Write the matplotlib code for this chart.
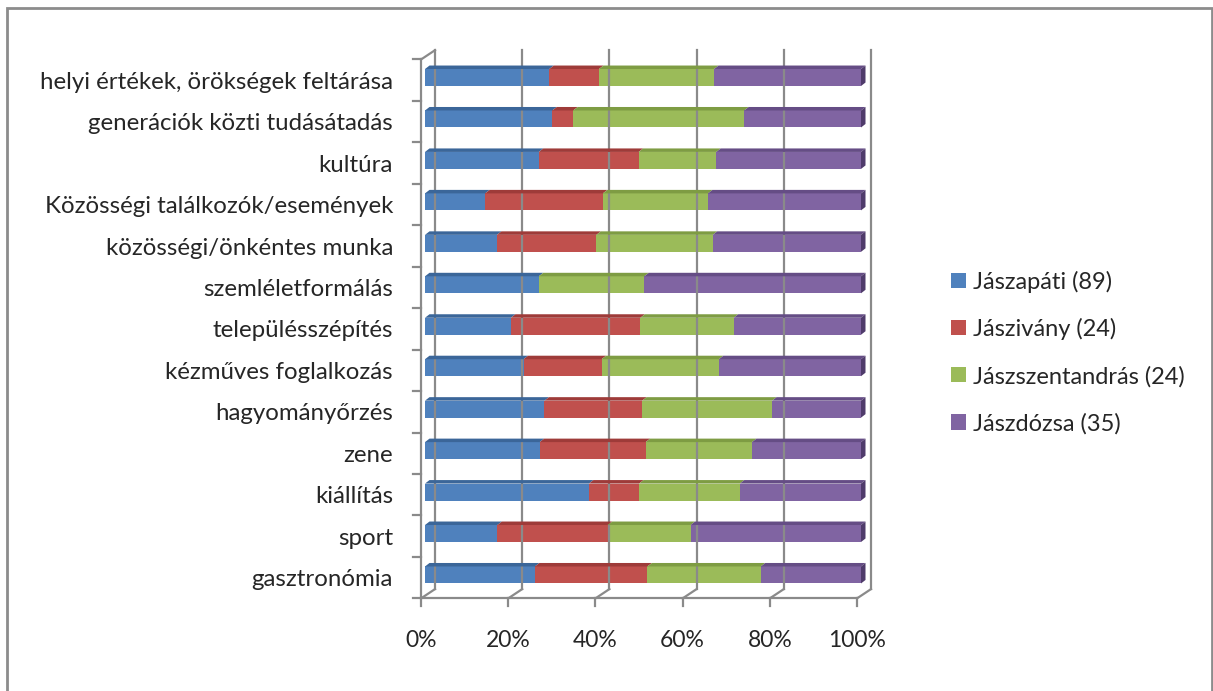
import numpy as np
import matplotlib
matplotlib.use('Agg')
import matplotlib.pyplot as plt
from matplotlib.patches import Polygon, Patch, Rectangle
from matplotlib.lines import Line2D
from matplotlib.transforms import offset_copy, IdentityTransform

# categories, bottom to top
categories = ['gasztronómia', 'sport', 'kiállítás', 'zene', 'hagyományőrzés',
              'kézműves foglalkozás', 'településszépítés', 'szemléletformálás',
              'közösségi/önkéntes munka', 'Közösségi találkozók/események',
              'kultúra', 'generációk közti tudásátadás',
              'helyi értékek, örökségek feltárása']

series = ['Jászapáti (89)', 'Jászivány (24)', 'Jászszentandrás (24)', 'Jászdózsa (35)']

# shares in percent (same order as categories)
japati = [25.2, 16.6, 37.6, 26.3, 27.4, 22.6, 19.7, 26.1, 16.5, 13.8, 26.1, 29.2, 28.5]
jasziv = [25.8, 25.3, 11.5, 24.3, 22.4, 17.9, 29.7, 0.0, 22.8, 27.0, 22.9, 4.8, 11.4]
jszent = [26.0, 19.0, 23.1, 24.4, 29.8, 26.9, 21.4, 24.2, 26.7, 24.1, 17.8, 39.2, 26.4]
jdozsa = [23.0, 39.1, 27.8, 25.0, 20.4, 32.6, 29.2, 49.7, 34.0, 35.1, 33.2, 26.8, 33.7]

colors = ['#4F81BD', '#C0504D', '#9BBB59', '#8064A2']
tops = ['#3B6699', '#9E3B39', '#7E9C43', '#654D85']
side = '#4F3B6B'
grid_c = '#8A8A8A'
txt_c = '#262626'

W, H = 1213, 691
fig = plt.figure(figsize=(W / 100, H / 100), dpi=100)
plt.rcParams['font.family'] = ['Lato', 'DejaVu Sans']

ax = fig.add_axes([425 / W, 95.3 / H, 436 / W, 538.9 / H])
ax.set_xlim(0, 100)
ax.set_ylim(-0.5, len(categories) - 0.5)
ax.axis('off')

# depth offsets in pixels (bar plane -> front plane / back wall / bar back)
front = offset_copy(ax.transData, fig=fig, x=-4, y=-2.7, units='dots')
back = offset_copy(ax.transData, fig=fig, x=10, y=6.6, units='dots')
bdx, bdy = 4.5, 3.5
ident = IdentityTransform()

def pline(p1, p2, **kw):
    fig.add_artist(Line2D([p1[0], p2[0]], [p1[1], p2[1]], transform=ident,
                          color=grid_c, lw=1.6, **kw))

ymin, ymax = -0.5, len(categories) - 0.5
xt = [0, 20, 40, 60, 80, 100]

# back wall gridlines, floor diagonals, x ticks and labels
xlab_tr = offset_copy(front, fig=fig, x=0, y=-32, units='dots')
for v in xt:
    pline(back.transform((v, ymin)), back.transform((v, ymax)))
    pline(front.transform((v, ymin)), back.transform((v, ymin)))
    f = front.transform((v, ymin))
    pline(f, (f[0], f[1] - 8))
    ax.text(v, ymin, f'{v}%', transform=xlab_tr, ha='center', va='top',
            fontsize=16.5, color=txt_c)

# front floor edge and left front edge
pline(front.transform((0, ymin)), front.transform((100, ymin)))
pline(front.transform((0, ymin)), front.transform((0, ymax)))
pline(front.transform((0, ymax)), back.transform((0, ymax)))
for b in np.arange(ymin, ymax + 0.01, 1.0):
    f = front.transform((0, b))
    pline(f, (f[0] - 8, f[1]))

# bars
y = np.arange(len(categories))
h = 0.41
vals = [japati, jasziv, jszent, jdozsa]
left = np.zeros(len(categories))
for vs, c, tc, name in zip(vals, colors, tops, series):
    vs = np.array(vs)
    ax.barh(y, vs, left=left, height=h, color=c, label=name, zorder=3)
    for yi, l, v in zip(y, left, vs):
        if v <= 0:
            continue
        p1 = ax.transData.transform((l, yi + h / 2))
        p2 = ax.transData.transform((l + v, yi + h / 2))
        poly = [p1, p2, (p2[0] + bdx, p2[1] + bdy), (p1[0] + bdx, p1[1] + bdy)]
        fig.add_artist(Polygon(poly, closed=True, transform=ident,
                               facecolor=tc, edgecolor='none', zorder=4))
    left = left + vs

# right side faces
for yi, r in zip(y, left):
    q1 = ax.transData.transform((r, yi - h / 2))
    q2 = ax.transData.transform((r, yi + h / 2))
    poly = [q1, q2, (q2[0] + bdx, q2[1] + bdy), (q1[0] + bdx, q1[1] + bdy)]
    fig.add_artist(Polygon(poly, closed=True, transform=ident,
                           facecolor=side, edgecolor='none', zorder=4))

# category labels on the front plane
lab_tr = offset_copy(front, fig=fig, x=-28, y=-2, units='dots')
for yi, name in zip(y, categories):
    ax.text(0, yi, name, transform=lab_tr, ha='right', va='center',
            fontsize=17.3, color=txt_c)

handles = [Patch(facecolor=c, edgecolor='none') for c in colors]
fig.legend(handles, series, loc='upper left', bbox_to_anchor=(942 / W, 1 - 261 / H),
           frameon=False, fontsize=17, handlelength=0.62, handleheight=0.62,
           handletextpad=0.3, labelspacing=1.08, borderaxespad=0,
           labelcolor=txt_c)

fig.add_artist(Rectangle((7 / W, -0.01), (1212 - 7) / W, 1.01 - 8 / H,
                         transform=fig.transFigure, fill=False,
                         edgecolor='#8C8C8C', lw=2))

fig.savefig('out.png', dpi=100)
